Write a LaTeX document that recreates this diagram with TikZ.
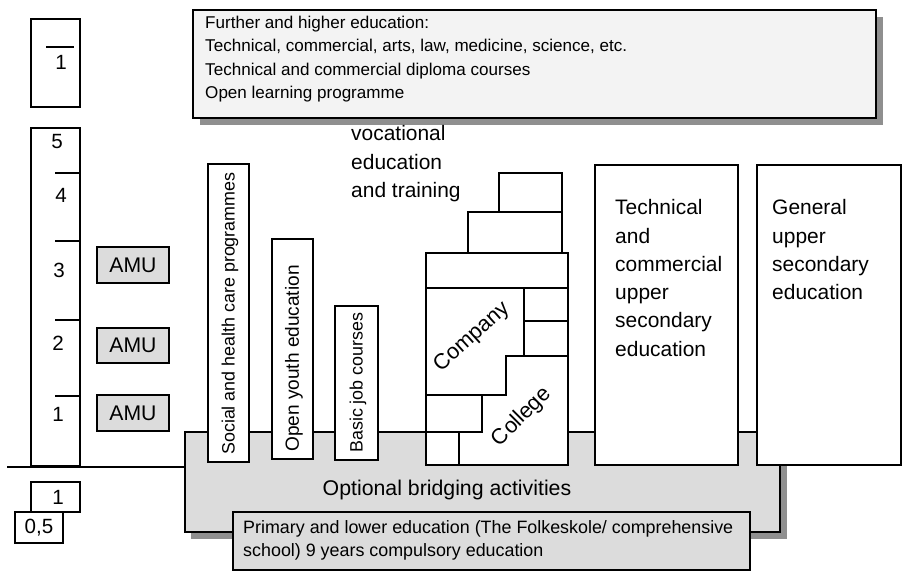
\documentclass[tikz,border=0pt]{standalone}
\usepackage{fontspec}
\setmainfont{Liberation Sans}
\usepackage{xcolor}
\usepackage{tikz}
\usetikzlibrary{positioning}

\definecolor{panelgray}{HTML}{DCDCDC}
\definecolor{lightpanel}{HTML}{F3F3F3}
\definecolor{shadowgray}{HTML}{8F8F8F}

\begin{document}
\begin{tikzpicture}[x=0.85pt,y=-0.85pt,
  frame/.style={draw=black, line width=1.6pt},
  whitebox/.style={frame, fill=white},
  greybox/.style={frame, fill=panelgray},
  vetline/.style={draw=black, line width=2.2pt},
  numlabel/.style={font=\fontsize{17.5}{20}\selectfont, inner sep=0pt},
  bigtext/.style={font=\fontsize{17.8}{24}\selectfont, align=left, anchor=north west, inner sep=0pt},
  vtext/.style={rotate=90, anchor=west, inner sep=0pt}]
  \useasboundingbox (0,0) rectangle (906,573);

  % Further and higher education
  \fill[shadowgray] (200,17) rectangle (883,125);
  \draw[frame, fill=lightpanel] (193,10) rectangle (876,118);
  \node[font=\fontsize{14.5}{20}\selectfont, align=left, anchor=north west, inner sep=0pt]
    (higher) at (205,15.5) {Further and higher education:\\
      Technical, commercial, arts, law, medicine, science, etc.\\
      Technical and commercial diploma courses\\
      Open learning programme};

  % Optional bridging activities
  \fill[shadowgray] (191,438) rectangle (787,539);
  \draw[greybox] (185,432) rectangle (780,532);
  \node[font=\fontsize{18.1}{22}\selectfont] (bridging) at (447,490) {Optional bridging activities};

  % Vertical programmes
  \draw[whitebox] (208,164) rectangle (249,462);
  \node[vtext, font=\fontsize{15.2}{18}\selectfont] (social) at (230,455) {Social and health care programmes};
  \draw[whitebox] (272,239) rectangle (313,459);
  \node[vtext, font=\fontsize{16.2}{18}\selectfont] (youth) at (294,452) {Open youth education};
  \draw[whitebox] (335,306) rectangle (378,460);
  \node[vtext, font=\fontsize{15.2}{18}\selectfont] (basic) at (358,453) {Basic job courses};

  % Vocational education and training
  \node[bigtext] (vet) at (351,125.5) {vocational\\education\\and training};
  \draw[vetline, fill=white] (499,173) rectangle (562,212);
  \draw[vetline, fill=white] (468,212) rectangle (562,253);
  \draw[frame, fill=white] (426,253) rectangle (568,465);
  \draw[vetline] (426,288) -- (568,288);
  \draw[vetline] (524,288) -- (524,356);
  \draw[vetline] (524,321) -- (568,321);
  \draw[vetline] (568,356) -- (506,356) -- (506,395) -- (426,395);
  \draw[vetline] (482,395) -- (482,432) -- (426,432);
  \draw[vetline] (459,432) -- (459,465);
  \node[rotate=42, font=\fontsize{18.5}{20}\selectfont] (company) at (472,337) {Company};
  \node[rotate=45, font=\fontsize{18.5}{20}\selectfont] (college) at (522,417) {College};

  % Upper secondary
  \draw[whitebox] (595,165) rectangle (738,465);
  \node[bigtext] (technical) at (615,199.5) {Technical\\and\\commercial\\upper\\secondary\\education};
  \draw[whitebox] (757,165) rectangle (901,465);
  \node[bigtext] (general) at (772,199.5) {General\\upper\\secondary\\education};

  % Primary and lower education
  \draw[greybox] (233,512) rectangle (750,570);
  \node[font=\fontsize{15.2}{19.5}\selectfont, align=left, anchor=north west, inner sep=0pt]
    (primary) at (243,520) {Primary and lower education (The Folkeskole/ comprehensive\\
      school) 9 years compulsory education};

  % Age scale
  \draw[frame] (31,19) rectangle (80,107);
  \draw[line width=1.6pt] (46,47) -- (74,47);
  \node[numlabel] (top1) at (61,62) {1};
  \draw[frame] (31,128) rectangle (80,466);
  \foreach \y in {173,241,320,396}
    \draw[line width=1.8pt] (55,\y) -- (80,\y);
  \foreach \n/\x/\y in {5/57/142, 4/61/195, 3/59/270, 2/58/343, 1/58/414}
    \node[numlabel] (year\n) at (\x,\y) {\n};
  \foreach \n/\y in {3/265, 2/345.5, 1/413}
    \node[greybox, minimum width=72\pgflinewidth, inner sep=0pt, font=\fontsize{18}{20}\selectfont,
      minimum width=61pt, minimum height=30pt] (amu\n) at (133,\y) {AMU};
  \coordinate (baseL) at (7,467);
  \coordinate (baseR) at (185,467);
  \draw[line width=1.8pt] (baseL) -- (baseR);
  \draw[whitebox] (31,482) rectangle (80,512);
  \node[numlabel] (pre1) at (58,497) {1};
  \draw[whitebox] (15,512) rectangle (63,543);
  \node[numlabel] (pre05) at (39,528) {0,5};
\end{tikzpicture}
\end{document}
